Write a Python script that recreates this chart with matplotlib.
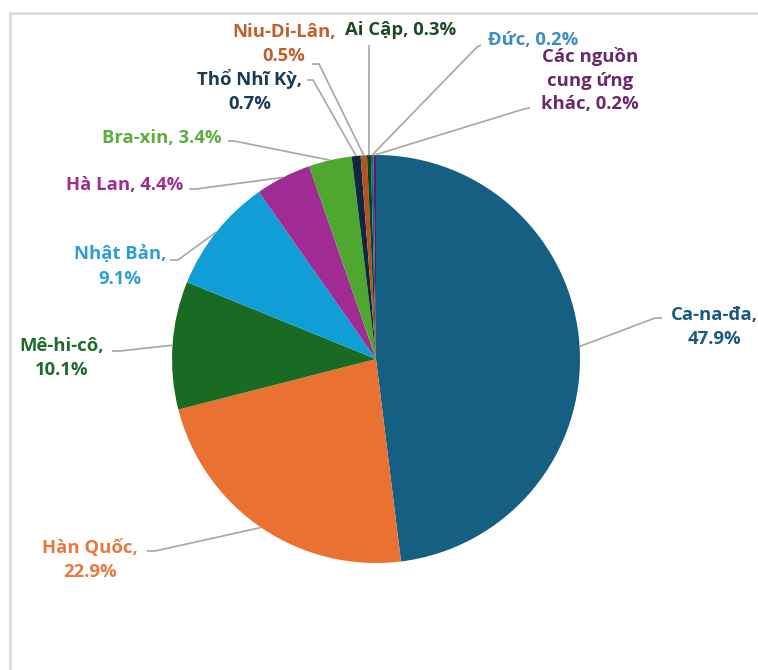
import matplotlib
matplotlib.use("Agg")
import matplotlib.pyplot as plt
from matplotlib.lines import Line2D
import numpy as np

plt.rcParams['font.family'] = ['Open Sans', 'DejaVu Sans']

# Import shares by supplier (%)
countries = ["Ca-na-đa", "Hàn Quốc", "Mê-hi-cô", "Nhật Bản", "Hà Lan", "Bra-xin",
             "Thổ Nhĩ Kỳ", "Niu-Di-Lân", "Ai Cập", "Đức", "Các nguồn cung ứng khác"]
shares = [47.9, 22.9, 10.1, 9.1, 4.4, 3.4, 0.7, 0.5, 0.3, 0.2, 0.2]

slice_colors = ["#156082", "#E97132", "#196B24", "#0F9ED5", "#A02B93", "#4EA72E",
                "#0E2841", "#B4531F", "#0F4016", "#0A6B94", "#621B58"]
label_colors = ["#1B5A7E", "#E8793E", "#1E6B2B", "#2E9FD6", "#A02B93", "#5AAE3A",
                "#1B3A55", "#C0602D", "#1D4A24", "#3A8FC0", "#6A2A6A"]

# label text (line breaks) for each slice
label_texts = ["Ca-na-đa,\n47.9%", "Hàn Quốc,\n22.9%", "Mê-hi-cô,\n10.1%",
               "Nhật Bản,\n9.1%", "Hà Lan, 4.4%", "Bra-xin, 3.4%",
               "Thổ Nhĩ Kỳ,\n0.7%", "Niu-Di-Lân,\n0.5%", "Ai Cập, 0.3%",
               "Đức, 0.2%", "Các nguồn\ncung ứng\nkhác, 0.2%"]

W, H = 758, 670
fig = plt.figure(figsize=(W / 100, H / 100), dpi=100)
ax = fig.add_axes([0, 0, 1, 1])

cx, cy, R = 376, H - 359, 204
wedges, _ = ax.pie(shares, colors=slice_colors, startangle=90, counterclock=False,
                   center=(cx, cy), radius=R, wedgeprops=dict(linewidth=0))
ax.set_xlim(0, W)
ax.set_ylim(0, H)
ax.set_aspect('equal')
ax.axis('off')

# text centre (x, y from top) and leader path points (x, y from top), from label to pie
layout = [
    ((714, 327), [(662, 318), (655, 318)]),
    ((90, 560), [(147, 551), (155, 551)]),
    ((62, 358), [(112, 351), (120, 351)]),
    ((120, 267), [(170, 260), (178, 260)]),
    ((125, 185), [(189, 189), (196, 189)]),
    ((162, 138), [(228, 141), (234, 141)]),
    ((250, 91), [(307, 80), (313, 80)]),
    ((284, 44), [(312, 64), (319, 64)]),
    ((401, 30), [(369, 45)]),
    ((533, 40), [(481, 45), (477, 47)]),
    ((590, 80), [(530, 108), (524, 109)]),
]

for w, txt, tcol, ((tx, ty), path) in zip(wedges, label_texts, label_colors, layout):
    mid = np.deg2rad((w.theta1 + w.theta2) / 2)
    ex, ey = cx + R * np.cos(mid), cy + R * np.sin(mid)
    xs = [p[0] for p in path] + [ex]
    ys = [H - p[1] for p in path] + [ey]
    ax.plot(xs, ys, color="#A6A6A6", lw=1.2, zorder=1, solid_capstyle='butt')
    ax.text(tx, H - ty, txt, ha='center', va='center', color=tcol, fontsize=13.3,
            fontweight='bold', linespacing=1.4, zorder=3)

# chart area border (top and left edges)
fig.add_artist(Line2D([10 / W, 1], [1 - 13 / H, 1 - 13 / H], color="#DCDCDC", lw=2,
                      transform=fig.transFigure))
fig.add_artist(Line2D([10 / W, 10 / W], [0, 1 - 13 / H], color="#DCDCDC", lw=2,
                      transform=fig.transFigure))

fig.savefig("out.png", dpi=100)
